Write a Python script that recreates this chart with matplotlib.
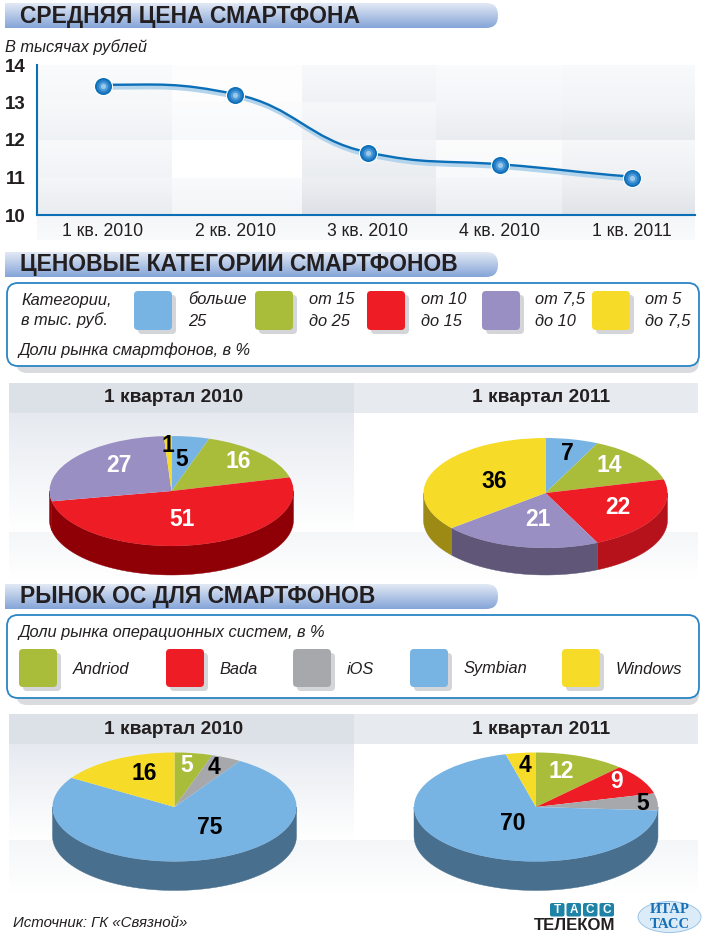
import numpy as np
import matplotlib
matplotlib.use('Agg')
import matplotlib.pyplot as plt
from matplotlib.patches import FancyBboxPatch, PathPatch, Polygon, Rectangle, Ellipse
from matplotlib.path import Path
from matplotlib.colors import to_rgb
from matplotlib.transforms import offset_copy

W, H = 705, 936

quarters = ['1 кв. 2010', '2 кв. 2010', '3 кв. 2010', '4 кв. 2010', '1 кв. 2011']
price = [13.45, 13.2, 11.65, 11.33, 11.0]
price_ticks = [10, 11, 12, 13, 14]

price_cat_2010 = [5, 16, 51, 27, 1]
price_cat_2011 = [7, 14, 22, 21, 36]
os_2010 = [5, 4, 75, 16]
os_2011 = [12, 9, 5, 70, 4]

price_names = [['больше', '25'], ['от 15', 'до 25'], ['от 10', 'до 15'], ['от 7,5', 'до 10'], ['от 5', 'до 7,5']]
os_names = ['Andriod', 'Bada', 'iOS', 'Symbian', 'Windows']

BLUE = '#78b4e3'
GREEN = '#a9bd3a'
RED = '#ee1c25'
PURPLE = '#998fc3'
YELLOW = '#f6dc28'
GREY = '#a6a8ab'
DARKBLUE = '#486f8e'
TXT = '#231f20'
ITALIC = 11.8

plt.rcParams['font.family'] = ['Liberation Sans', 'DejaVu Sans']

fig = plt.figure(figsize=(W / 100, H / 100), dpi=100)
fig.patch.set_facecolor('white')


def overlay(z):
    a = fig.add_axes([0, 0, 1, 1], zorder=z)
    a.set_xlim(0, W)
    a.set_ylim(H, 0)
    a.axis('off')
    a.patch.set_alpha(0)
    a.set_autoscale_on(False)
    return a


bg = overlay(0)
fg = overlay(5)


def px_axes(x0, y0, x1, y1, z=2):
    a = fig.add_axes([x0 / W, 1 - y1 / H, (x1 - x0) / W, (y1 - y0) / H], zorder=z)
    a.patch.set_alpha(0)
    return a


def grad(x0, y0, x1, y1, c0, c1, clip=None, z=1):
    t = np.linspace(0, 1, 64)[:, None]
    img = (1 - t) * np.array(to_rgb(c0)) + t * np.array(to_rgb(c1))
    im = bg.imshow(img[:, None, :], extent=[x0, x1, y1, y0], aspect='auto', zorder=z, interpolation='bilinear')
    if clip is not None:
        im.set_clip_path(clip)
    return im


def title_bar(y0, y1, text):
    x0, x1, r = 5, 498, 12
    verts = [(x0, y0), (x1 - r, y0), (x1, y0), (x1, y0 + r), (x1, y1 - r), (x1, y1), (x1 - r, y1), (x0, y1), (x0, y0)]
    codes = [Path.MOVETO, Path.LINETO, Path.CURVE3, Path.CURVE3, Path.LINETO, Path.CURVE3, Path.CURVE3, Path.LINETO, Path.CLOSEPOLY]
    p = PathPatch(Path(verts, codes), fc='none', ec='none')
    bg.add_patch(p)
    grad(x0, y0, x1, y1, '#e2e9f5', '#85a5d8', clip=p)
    fg.text(20, (y0 + y1) / 2 + 0.5, text, fontsize=16.5, fontweight='bold', color=TXT, va='center', ha='left')


def legend_box(y0, y1):
    s = FancyBboxPatch((16, y0 + 7), 683, y1 - y0, boxstyle='round,pad=0,rounding_size=11', fc='#d9dbde', ec='none', zorder=1)
    bg.add_patch(s)
    b = FancyBboxPatch((7, y0), 692, y1 - y0, boxstyle='round,pad=0,rounding_size=11', fc='white', ec='#2a85c6', lw=1.3, zorder=2)
    bg.add_patch(b)


def swatch(x0, y0, x1, y1, color):
    bg.add_patch(FancyBboxPatch((x0 + 4, y0 + 4), x1 - x0, y1 - y0, boxstyle='round,pad=0,rounding_size=4', fc='#d3d5d8', ec='none', zorder=3))
    bg.add_patch(FancyBboxPatch((x0, y0), x1 - x0, y1 - y0, boxstyle='round,pad=0,rounding_size=4', fc=color, ec='none', zorder=4))


def panel(y_head, y_body, y_fade, y_end, text_y):
    grad(9, y_body, 354, y_fade, '#e6eaf0', '#ffffff')
    grad(9, y_fade, 698, y_end, '#f4f6f8', '#ffffff')
    bg.add_patch(Rectangle((9, y_head), 345, y_body - y_head, fc='#dce1e8', ec='none', zorder=2))
    bg.add_patch(Rectangle((354, y_head), 344, y_body - y_head, fc='#e7ebf0', ec='none', zorder=2))
    fg.text(174, text_y, '1 квартал 2010', fontsize=13.8, fontweight='bold', color=TXT, ha='center', va='center')
    fg.text(541, text_y, '1 квартал 2011', fontsize=13.8, fontweight='bold', color=TXT, ha='center', va='center')


def pie3d(values, colors, sides, cx, cy, rx, ry, depth, labels):
    a = px_axes(cx - rx * 1.1, cy - ry * 1.1, cx + rx * 1.1, cy + ry + depth + 4)
    wedges, _ = a.pie(values, colors=colors, startangle=90, counterclock=False,
                      wedgeprops={'linewidth': 0, 'zorder': 3})
    a.set_aspect('auto')
    a.set_xlim(-1.1, 1.1)
    a.set_ylim(-(ry + depth + 4) / ry, 1.1)
    d = depth / ry
    for w, side in zip(wedges, sides):
        t1, t2 = w.theta1, w.theta2
        # pie may hand back angles above 360, walk the lower half twice
        for lo, hi in [(180, 360), (540, 720), (-180, 0)]:
            s, e = max(t1, lo), min(t2, hi)
            if e <= s:
                continue
            th = np.radians(np.linspace(s, e, 60))
            top = np.c_[np.cos(th), np.sin(th)]
            low = (top - [0, d])[::-1]
            a.add_patch(Polygon(np.r_[top, low], fc=side, ec=side, lw=0.3, zorder=2))
    for v, (lx, ly), c in zip(values, labels[0], labels[1]):
        fg.text(lx, ly, str(v), fontsize=16.5, fontweight='bold', color=c, ha='center', va='center')


# --- price line ---
cols = [37, 172, 302, 436, 562, 695]
rows = [65, 102, 140, 178, 215]
shades = [['#f5f7f9', '#fdfdfe', '#f0f2f5', '#f5f6f9', '#f2f4f7'],
          ['#eff2f5', '#f8f9fb', '#eff1f4', '#e9ecf0', '#e7eaee'],
          ['#f1f3f6', '#ffffff', '#e9ecf0', '#f8f9fa', '#eef0f3'],
          ['#e9ecf0', '#f3f5f7', '#dde0e6', '#eaedf1', '#e0e3e8']]
for i in range(4):
    for j in range(5):
        light = tuple(0.5 + 0.5 * c for c in to_rgb(shades[i][j]))
        grad(cols[j], rows[i], cols[j + 1], rows[i + 1], light, shades[i][j])
grad(37, 215, 695, 240, '#f3f5f8', '#fafbfc')

ax = px_axes(37, 65, 695, 215, z=3)
ax.set_xlim(-0.499, 4.476)
ax.set_ylim(10, 14)

xs = np.arange(len(price))
ys = np.array(price)
slopes = np.gradient(ys, xs) * 0.8
slopes[0] = 0
verts = [(xs[0], ys[0])]
codes = [Path.MOVETO]
for i in range(len(xs) - 1):
    verts += [(xs[i] + 0.45, ys[i] + slopes[i] * 0.45), (xs[i + 1] - 0.45, ys[i + 1] - slopes[i + 1] * 0.45), (xs[i + 1], ys[i + 1])]
    codes += [Path.CURVE4] * 3
curve = Path(verts, codes)
ax.add_patch(PathPatch(curve, fc='none', ec='#b4d4ec', lw=3.2, zorder=2,
                       transform=offset_copy(ax.transData, fig=fig, x=0.6, y=-1.3, units='points')))
ax.add_patch(PathPatch(curve, fc='none', ec='#0b6fb8', lw=1.7, zorder=3,
                       transform=offset_copy(ax.transData, fig=fig, x=0, y=0.6, units='points')))
ax.scatter(xs, ys, s=190, c='white', lw=0, zorder=4, clip_on=False)
ax.scatter(xs, ys, s=150, c='#0b6fb8', lw=0, zorder=5)
ax.scatter(xs, ys, s=95, c='#2a80c8', lw=0, zorder=6)
ax.scatter(xs, ys, s=45, c='#4f9edb', lw=0, zorder=7)
ax.scatter(xs, ys, s=14, c='#9cc8ea', lw=0, zorder=8)

ax.set_xticks(xs, quarters)
ax.set_yticks(price_ticks)
ax.tick_params(axis='x', length=0, pad=6, labelsize=12.7, labelcolor=TXT)
ax.tick_params(axis='y', length=0, pad=8.5, labelsize=13.5, labelcolor=TXT)
for t in ax.get_yticklabels():
    t.set_fontweight('bold')
for s in ['top', 'right']:
    ax.spines[s].set_visible(False)
for s in ['left', 'bottom']:
    ax.spines[s].set_color('#0b6fb8')
    ax.spines[s].set_linewidth(1.5)

title_bar(3, 28, 'СРЕДНЯЯ ЦЕНА СМАРТФОНА')
fg.text(5, 47, 'В тысячах рублей', fontsize=ITALIC, style='italic', color=TXT, va='center')

# --- price categories ---
title_bar(252, 277, 'ЦЕНОВЫЕ КАТЕГОРИИ СМАРТФОНОВ')
legend_box(283, 366)
fg.text(21, 300, 'Категории,', fontsize=ITALIC, style='italic', color=TXT, va='center')
fg.text(21, 320, 'в тыс. руб.', fontsize=ITALIC, style='italic', color=TXT, va='center')
fg.text(19, 350, 'Доли рынка смартфонов, в %', fontsize=ITALIC, style='italic', color=TXT, va='center')
price_colors = [BLUE, GREEN, RED, PURPLE, YELLOW]
for x0, x_txt, c, nm in zip([134, 255, 367, 482, 592], [188, 309, 421, 535, 645], price_colors, price_names):
    swatch(x0, 291, x0 + 38, 330, c)
    fg.text(x_txt, 300, nm[0], fontsize=ITALIC, style='italic', color=TXT, va='center')
    fg.text(x_txt, 322, nm[1], fontsize=ITALIC, style='italic', color=TXT, va='center')

panel(383, 413, 532, 578, 398)
pie3d(price_cat_2010, price_colors, ['#7a0005', '#7a8a20', '#8e0006', '#8e0006', '#9c8a14'],
      171.5, 491, 122, 55, 29,
      ([(182, 459), (238, 462), (182, 519), (119, 466), (167.5, 446)], ['k', 'w', 'w', 'w', 'k']))
pie3d(price_cat_2011, price_colors, [BLUE, GREEN, '#b5121b', '#5f5678', '#9c8a14'],
      545.5, 493, 122, 55, 27,
      ([(567.5, 453), (609, 465), (618, 508), (538, 519), (494, 481)], ['k', 'w', 'w', 'w', 'k']))

# --- os market ---
title_bar(584, 609, 'РЫНОК ОС ДЛЯ СМАРТФОНОВ')
legend_box(615, 698)
fg.text(19, 633, 'Доли рынка операционных систем, в %', fontsize=ITALIC, style='italic', color=TXT, va='center')
os_colors = [GREEN, RED, GREY, BLUE, YELLOW]
for x0, x_txt, c, nm in zip([19, 166, 293, 410, 562], [73, 219, 347, 464, 616], os_colors, os_names):
    swatch(x0, 649, x0 + 38, 687, c)
    fg.text(x_txt, 669, nm, fontsize=ITALIC, style='italic', color=TXT, va='center')

panel(714, 744, 840, 892, 730)
pie3d(os_2010, [GREEN, GREY, BLUE, YELLOW], [DARKBLUE] * 4,
      174.5, 807, 122, 54.5, 29,
      ([(187, 766), (214, 767), (210, 828), (144, 773)], ['w', 'k', 'k', 'k']))
pie3d(os_2011, os_colors, [DARKBLUE] * 5,
      536, 807, 122, 54.5, 29,
      ([(561, 772), (617, 782), (643, 803), (513, 823), (525, 765)], ['w', 'w', 'k', 'k', 'k']))

# --- footer ---
fg.text(13, 923, 'Источник: ГК «Связной»', fontsize=10.8, style='italic', color=TXT, va='center')
for x0, ch in zip([550, 566.5, 583, 599.5], 'ТАСС'):
    fg.add_patch(FancyBboxPatch((x0, 903), 14.5, 13.5, boxstyle='round,pad=0,rounding_size=2', fc='#1f83a8', ec='none'))
    fg.text(x0 + 7.2, 909.7, ch, fontsize=8.5, fontweight='bold', color='white', ha='center', va='center')
fg.text(615, 925.5, 'ТЕЛЕКОМ', fontsize=12.1, fontweight='bold', color=TXT, ha='right', va='center')
fg.add_patch(Ellipse((669.5, 917), 63, 31, fc='#dcebf8', ec='#8fbde3', lw=0.6))
fg.text(669.5, 909.5, 'ИТАР', fontsize=10.5, fontweight='bold', family='Liberation Serif', color='#1670b8', ha='center', va='center')
fg.text(669.5, 925, 'ТАСС', fontsize=10.5, fontweight='bold', family='Liberation Serif', color='#1670b8', ha='center', va='center')

fig.savefig('out.png', dpi=100)
